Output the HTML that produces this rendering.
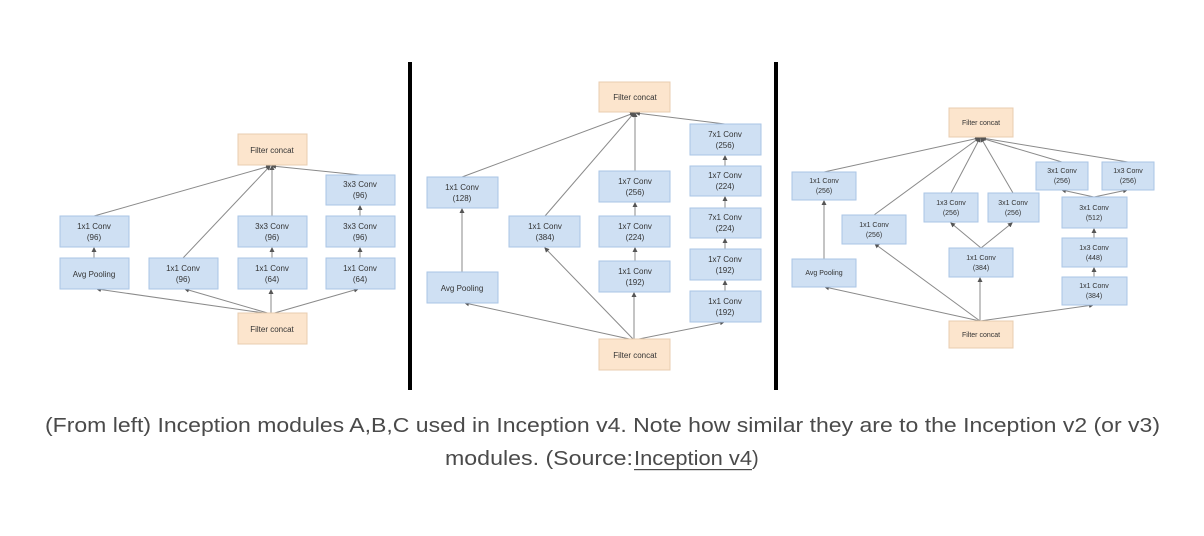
<!DOCTYPE html>
<html><head><meta charset="utf-8"><style>
html,body{margin:0;padding:0;background:#fff;}
svg{display:block;}
.b{fill:#cfe0f3;stroke:#aac5e6;stroke-width:1;}
.o{fill:#fce5cd;stroke:#e8cdb0;stroke-width:1;}
.t{font-family:"Liberation Sans",sans-serif;font-size:8px;fill:#333;text-anchor:middle;}
.tc{font-family:"Liberation Sans",sans-serif;font-size:7px;fill:#333;text-anchor:middle;}
.l{stroke:#8a8a8a;stroke-width:1;fill:none;marker-end:url(#ar);}
.cap{font-family:"Liberation Sans",sans-serif;font-size:20px;fill:#4a4a4a;}
</style></head><body>
<svg width="1204" height="536" viewBox="0 0 1204 536" xmlns="http://www.w3.org/2000/svg">
<defs><marker id="ar" markerWidth="5" markerHeight="5" refX="4" refY="2.5" orient="auto"><path d="M0,0 L5,2.5 L0,5z" fill="#555"/></marker></defs>
<rect x="408" y="62" width="4" height="328" fill="#000"/>
<rect x="774" y="62" width="4" height="328" fill="#000"/>

<!-- Panel A -->
<g>
<line class="l" x1="94" y1="216" x2="270" y2="166"/>
<line class="l" x1="183" y1="258" x2="270" y2="166"/>
<line class="l" x1="272" y1="216" x2="272" y2="166"/>
<line class="l" x1="360" y1="175" x2="272" y2="166"/>
<line class="l" x1="94" y1="258" x2="94" y2="248"/>
<line class="l" x1="272" y1="258" x2="272" y2="248"/>
<line class="l" x1="360" y1="258" x2="360" y2="248"/>
<line class="l" x1="360" y1="216" x2="360" y2="206"/>
<line class="l" x1="271" y1="314" x2="97" y2="289"/>
<line class="l" x1="271" y1="314" x2="185" y2="289"/>
<line class="l" x1="271" y1="314" x2="271" y2="290"/>
<line class="l" x1="271" y1="314" x2="358" y2="289"/>
<rect class="o" x="238" y="134" width="69" height="31"/><text class="t" x="272" y="153">Filter concat</text>
<rect class="b" x="60" y="216" width="69" height="31"/><text class="t" x="94" y="229">1x1 Conv</text><text class="t" x="94" y="240">(96)</text>
<rect class="b" x="60" y="258" width="69" height="31"/><text class="t" x="94" y="277">Avg Pooling</text>
<rect class="b" x="149" y="258" width="69" height="31"/><text class="t" x="183" y="271">1x1 Conv</text><text class="t" x="183" y="282">(96)</text>
<rect class="b" x="238" y="216" width="69" height="31"/><text class="t" x="272" y="229">3x3 Conv</text><text class="t" x="272" y="240">(96)</text>
<rect class="b" x="238" y="258" width="69" height="31"/><text class="t" x="272" y="271">1x1 Conv</text><text class="t" x="272" y="282">(64)</text>
<rect class="b" x="326" y="175" width="69" height="30"/><text class="t" x="360" y="187">3x3 Conv</text><text class="t" x="360" y="198">(96)</text>
<rect class="b" x="326" y="216" width="69" height="31"/><text class="t" x="360" y="229">3x3 Conv</text><text class="t" x="360" y="240">(96)</text>
<rect class="b" x="326" y="258" width="69" height="31"/><text class="t" x="360" y="271">1x1 Conv</text><text class="t" x="360" y="282">(64)</text>
<rect class="o" x="238" y="313" width="69" height="31"/><text class="t" x="272" y="332">Filter concat</text>
</g>

<!-- Panel B -->
<g>
<line class="l" x1="462" y1="177" x2="634" y2="113"/>
<line class="l" x1="545" y1="216" x2="634" y2="113"/>
<line class="l" x1="635" y1="171" x2="635" y2="113"/>
<line class="l" x1="725" y1="124" x2="636" y2="113"/>
<line class="l" x1="462" y1="272" x2="462" y2="209"/>
<line class="l" x1="635" y1="216" x2="635" y2="203"/>
<line class="l" x1="635" y1="261" x2="635" y2="248"/>
<line class="l" x1="725" y1="166" x2="725" y2="156"/>
<line class="l" x1="725" y1="208" x2="725" y2="197"/>
<line class="l" x1="725" y1="249" x2="725" y2="239"/>
<line class="l" x1="725" y1="291" x2="725" y2="281"/>
<line class="l" x1="634" y1="340" x2="465" y2="303"/>
<line class="l" x1="634" y1="340" x2="545" y2="248"/>
<line class="l" x1="634" y1="340" x2="634" y2="293"/>
<line class="l" x1="634" y1="340" x2="724" y2="322"/>
<rect class="o" x="599" y="82" width="71" height="30"/><text class="t" x="635" y="100">Filter concat</text>
<rect class="b" x="427" y="177" width="71" height="31"/><text class="t" x="462" y="190">1x1 Conv</text><text class="t" x="462" y="201">(128)</text>
<rect class="b" x="427" y="272" width="71" height="31"/><text class="t" x="462" y="291">Avg Pooling</text>
<rect class="b" x="509" y="216" width="71" height="31"/><text class="t" x="545" y="229">1x1 Conv</text><text class="t" x="545" y="240">(384)</text>
<rect class="b" x="599" y="171" width="71" height="31"/><text class="t" x="635" y="184">1x7 Conv</text><text class="t" x="635" y="195">(256)</text>
<rect class="b" x="599" y="216" width="71" height="31"/><text class="t" x="635" y="229">1x7 Conv</text><text class="t" x="635" y="240">(224)</text>
<rect class="b" x="599" y="261" width="71" height="31"/><text class="t" x="635" y="274">1x1 Conv</text><text class="t" x="635" y="285">(192)</text>
<rect class="b" x="690" y="124" width="71" height="31"/><text class="t" x="725" y="137">7x1 Conv</text><text class="t" x="725" y="148">(256)</text>
<rect class="b" x="690" y="166" width="71" height="30"/><text class="t" x="725" y="178">1x7 Conv</text><text class="t" x="725" y="189">(224)</text>
<rect class="b" x="690" y="208" width="71" height="30"/><text class="t" x="725" y="220">7x1 Conv</text><text class="t" x="725" y="231">(224)</text>
<rect class="b" x="690" y="249" width="71" height="31"/><text class="t" x="725" y="262">1x7 Conv</text><text class="t" x="725" y="273">(192)</text>
<rect class="b" x="690" y="291" width="71" height="31"/><text class="t" x="725" y="304">1x1 Conv</text><text class="t" x="725" y="315">(192)</text>
<rect class="o" x="599" y="339" width="71" height="31"/><text class="t" x="635" y="358">Filter concat</text>
</g>

<!-- Panel C -->
<g>
<line class="l" x1="824" y1="172" x2="979" y2="138"/>
<line class="l" x1="874" y1="215" x2="979" y2="138"/>
<line class="l" x1="951" y1="193" x2="980" y2="138"/>
<line class="l" x1="1013" y1="193" x2="981" y2="138"/>
<line class="l" x1="1062" y1="162" x2="981" y2="138"/>
<line class="l" x1="1128" y1="162" x2="982" y2="138"/>
<line class="l" x1="824" y1="259" x2="824" y2="201"/>
<line class="l" x1="981" y1="248" x2="951" y2="223"/>
<line class="l" x1="981" y1="248" x2="1012" y2="223"/>
<line class="l" x1="1094" y1="197" x2="1062" y2="190"/>
<line class="l" x1="1094" y1="197" x2="1127" y2="190"/>
<line class="l" x1="1094" y1="238" x2="1094" y2="229"/>
<line class="l" x1="1094" y1="277" x2="1094" y2="268"/>
<line class="l" x1="980" y1="321" x2="825" y2="287"/>
<line class="l" x1="980" y1="321" x2="875" y2="244"/>
<line class="l" x1="980" y1="321" x2="980" y2="278"/>
<line class="l" x1="980" y1="321" x2="1093" y2="305"/>
<rect class="o" x="949" y="108" width="64" height="29"/><text class="tc" x="981" y="125">Filter concat</text>
<rect class="b" x="792" y="172" width="64" height="28"/><text class="tc" x="824" y="183">1x1 Conv</text><text class="tc" x="824" y="193">(256)</text>
<rect class="b" x="792" y="259" width="64" height="28"/><text class="tc" x="824" y="275">Avg Pooling</text>
<rect class="b" x="842" y="215" width="64" height="29"/><text class="tc" x="874" y="227">1x1 Conv</text><text class="tc" x="874" y="237">(256)</text>
<rect class="b" x="924" y="193" width="54" height="29"/><text class="tc" x="951" y="205">1x3 Conv</text><text class="tc" x="951" y="215">(256)</text>
<rect class="b" x="988" y="193" width="51" height="29"/><text class="tc" x="1013" y="205">3x1 Conv</text><text class="tc" x="1013" y="215">(256)</text>
<rect class="b" x="949" y="248" width="64" height="29"/><text class="tc" x="981" y="260">1x1 Conv</text><text class="tc" x="981" y="270">(384)</text>
<rect class="b" x="1036" y="162" width="52" height="28"/><text class="tc" x="1062" y="173">3x1 Conv</text><text class="tc" x="1062" y="183">(256)</text>
<rect class="b" x="1102" y="162" width="52" height="28"/><text class="tc" x="1128" y="173">1x3 Conv</text><text class="tc" x="1128" y="183">(256)</text>
<rect class="b" x="1062" y="197" width="65" height="31"/><text class="tc" x="1094" y="210">3x1 Conv</text><text class="tc" x="1094" y="220">(512)</text>
<rect class="b" x="1062" y="238" width="65" height="29"/><text class="tc" x="1094" y="250">1x3 Conv</text><text class="tc" x="1094" y="260">(448)</text>
<rect class="b" x="1062" y="277" width="65" height="28"/><text class="tc" x="1094" y="288">1x1 Conv</text><text class="tc" x="1094" y="298">(384)</text>
<rect class="o" x="949" y="321" width="64" height="27"/><text class="tc" x="981" y="337">Filter concat</text>
</g>

<text class="cap" x="45" y="432" textLength="1115" lengthAdjust="spacingAndGlyphs">(From left) Inception modules A,B,C used in Inception v4. Note how similar they are to the Inception v2 (or v3)</text>
<text class="cap" x="445" y="465" textLength="188" lengthAdjust="spacingAndGlyphs">modules. (Source: </text>
<text class="cap" x="634" y="465" textLength="118" lengthAdjust="spacingAndGlyphs">Inception v4</text>
<rect x="634" y="469" width="118" height="1.2" fill="#4a4a4a"/>
<text class="cap" x="752" y="465">)</text>
</svg>
</body></html>
